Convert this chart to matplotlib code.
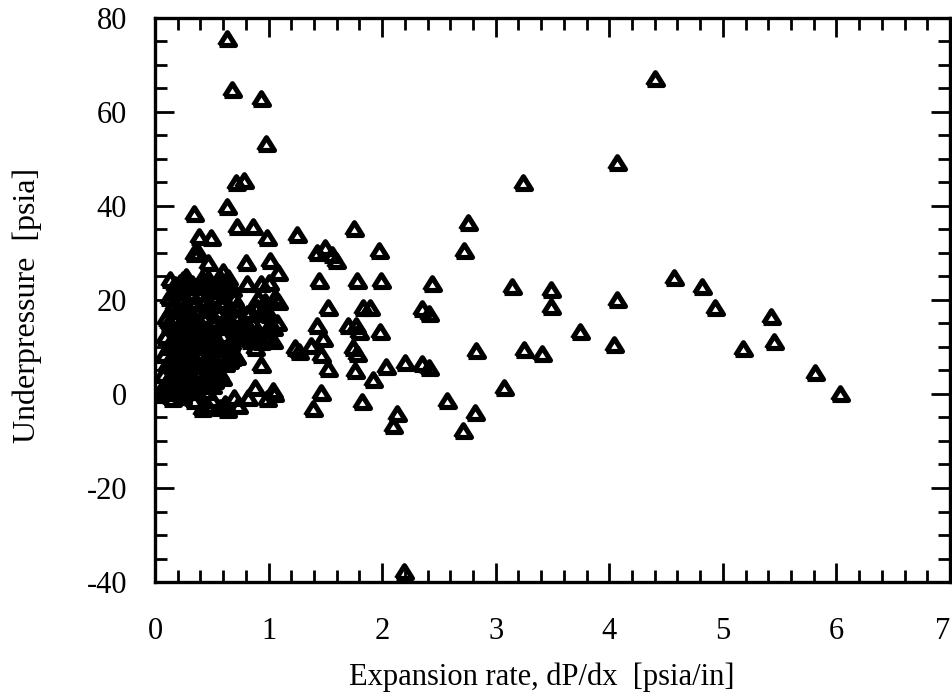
import numpy as np
import matplotlib
matplotlib.use("Agg")
import matplotlib.pyplot as plt
from matplotlib.ticker import MultipleLocator

plt.rcParams["font.family"] = ["Liberation Serif", "DejaVu Serif"]
plt.rcParams["axes.unicode_minus"] = False

# 分散的点 (扩张速率, 欠压)
scatter_x = [0.63, 0.68, 0.93, 0.98, 0.71, 0.78, 0.63, 0.34, 0.39, 0.49, 0.72, 0.86, 0.99, 1.25, 1.75,
             0.34, 0.38, 0.47, 0.60, 0.80, 1.01, 1.08, 1.43, 1.50, 1.56, 1.59, 1.97, 2.72, 2.76, 3.24,
             4.07, 4.40,
             0.25, 0.41, 0.46, 0.57, 0.64, 0.81, 0.93, 1.00, 1.44, 1.78, 1.99, 2.44, 3.14, 3.49, 4.07,
             4.57, 4.82, 4.93,
             0.91, 0.90, 0.95, 1.08, 1.52, 1.83, 1.89, 2.35, 2.41, 3.49,
             0.81, 0.86, 0.72, 0.78, 1.07, 1.43, 1.70, 1.77, 1.80, 1.98, 3.74,
             1.04, 0.84, 0.88, 0.66, 0.69, 1.23, 1.27, 1.37, 1.48, 1.46, 1.74, 1.78, 2.83, 3.25, 3.41,
             4.04, 5.18, 5.42, 5.45,
             0.93, 1.52, 1.76, 1.92, 2.03, 2.20, 2.35, 2.41, 3.07, 5.81, 6.03,
             1.04, 0.99, 0.88, 0.82, 0.73, 0.62, 0.57, 0.63, 0.46, 0.41, 0.34, 0.03,
             1.05, 1.46, 1.39, 1.82, 2.13, 2.10, 2.57, 2.82, 2.71, 2.19,
             0.55, 0.59, 0.97, 1.06, 0.84, 0.93, 1.00, 0.63, 0.75, 0.84, 0.90, 0.99, 1.04, 0.93, 0.99,
             0.64, 0.71]
scatter_y = [75.5, 64.6, 62.8, 53.2, 44.9, 45.3, 39.8, 38.3, 33.5, 33.1, 35.5, 35.5, 33.1, 33.8, 35.1,
             29.7, 30.0, 27.8, 26.0, 27.8, 28.2, 25.8, 29.9, 31.0, 29.6, 28.3, 30.4, 30.4, 36.3, 44.8,
             49.1, 67.1,
             24.3, 24.5, 23.7, 24.5, 23.7, 23.5, 23.5, 23.7, 24.0, 24.0, 24.0, 23.3, 22.7, 22.1, 20.1,
             24.6, 22.7, 18.3,
             20.3, 18.3, 17.1, 19.5, 18.3, 18.3, 18.3, 18.1, 17.0, 18.6,
             17.1, 14.9, 13.9, 12.4, 15.1, 14.5, 14.5, 14.5, 13.1, 13.2, 13.1,
             11.3, 11.3, 9.8, 10.7, 8.1, 9.7, 9.0, 10.2, 11.7, 8.2, 9.8, 8.5, 9.2, 9.3, 8.6,
             10.5, 9.5, 16.3, 11.1,
             6.1, 5.4, 4.8, 2.9, 5.8, 6.7, 6.3, 5.5, 1.2, 4.4, 0.1,
             0.7, -1.1, 1.3, -0.9, -2.6, -2.1, -3.0, -3.5, -2.6, -3.1, -1.4, -0.2,
             0.0, 0.2, -3.1, -1.6, -4.2, -6.9, -1.4, -4.0, -7.8, -37.8,
             4.3, 3.4, 19.6, 20.4, 17.4, 17.2, 16.8, 15.1, 14.3, 13.6, 13.2, 13.6, 14.0, 11.1, 11.5,
             9.4, 7.9]

# 密集区 (0 < x < 0.75)
cluster_x = [0.13, 0.22, 0.27, 0.41, 0.47, 0.57, 0.64,
             0.16, 0.19, 0.30, 0.36, 0.52, 0.68,
             0.12, 0.24, 0.33, 0.44, 0.50, 0.61, 0.70,
             0.15, 0.21, 0.28, 0.38, 0.46, 0.55, 0.66,
             0.10, 0.18, 0.26, 0.32, 0.42, 0.53, 0.63, 0.74,
             0.14, 0.20, 0.29, 0.37, 0.45, 0.58, 0.69,
             0.09, 0.17, 0.23, 0.31, 0.40, 0.49, 0.60, 0.72,
             0.12, 0.19, 0.27, 0.35, 0.43, 0.54, 0.64,
             0.08, 0.15, 0.22, 0.30, 0.39, 0.47, 0.58, 0.68,
             0.11, 0.18, 0.25, 0.34, 0.42, 0.51, 0.62,
             0.07, 0.14, 0.21, 0.29, 0.37, 0.45, 0.56,
             0.10, 0.17, 0.24, 0.32, 0.40, 0.50,
             0.05, 0.13, 0.20, 0.28, 0.36, 0.44,
             0.18, 0.33, 0.50, 0.60,
             0.17, 0.26, 0.35, 0.48, 0.58, 0.72,
             0.12, 0.24, 0.34, 0.40, 0.50, 0.62,
             0.14, 0.21, 0.29, 0.38, 0.46, 0.56, 0.67,
             0.13, 0.20, 0.27, 0.36, 0.44, 0.54, 0.65,
             0.12, 0.19, 0.26, 0.34, 0.42, 0.52,
             0.15, 0.24, 0.50, 0.70]
cluster_y = [24.2, 23.6, 24.8, 22.9, 24.4, 23.1, 24.6,
             21.8, 22.5, 21.4, 22.7, 21.9, 22.3,
             20.4, 19.7, 20.8, 19.9, 20.6, 19.5, 20.2,
             18.1, 17.6, 18.5, 17.9, 18.3, 17.4, 18.0,
             16.2, 15.8, 16.6, 15.9, 16.4, 15.6, 16.1, 16.5,
             14.3, 13.8, 14.1, 14.6, 13.7, 14.2, 13.9,
             12.2, 11.8, 12.5, 11.9, 12.3, 11.6, 12.4, 12.0,
             10.1, 9.7, 10.4, 9.9, 10.3, 9.6, 10.2,
             8.2, 7.8, 8.4, 7.9, 8.1, 7.6, 8.3, 7.7,
             6.2, 5.8, 6.4, 5.9, 6.1, 5.7, 6.3,
             4.1, 3.8, 4.3, 3.7, 4.2, 3.9, 4.4,
             2.2, 1.8, 2.4, 1.9, 2.1, 1.7,
             0.6, 0.3, 0.8, 0.4, 0.7, 0.5,
             23.1, 23.4, 22.8, 23.2,
             19.2, 18.8, 19.4, 18.9, 19.1, 18.7,
             15.1, 14.8, 15.3, 14.9, 15.2, 14.7,
             11.1, 10.8, 11.3, 10.9, 11.2, 10.7, 11.0,
             7.1, 6.8, 7.3, 6.9, 7.2, 6.7, 7.0,
             3.1, 2.8, 3.3, 2.9, 3.2, 2.7,
             -1.0, -0.7, -1.2, -0.8]

x_ticks = [0, 1, 2, 3, 4, 5, 6, 7]
y_ticks = [-40, -20, 0, 20, 40, 60, 80]

fig = plt.figure(figsize=(9.53, 6.94), dpi=100)
ax = fig.add_axes([155 / 953, 1 - 582 / 694, 795 / 953, 564 / 694])

# 宽底空心三角形 (无填充, 重叠处变黑)
tri = [(-1.0, -0.75), (1.0, -0.75), (0.0, 0.85), (-1.0, -0.75)]
all_x = np.array(cluster_x + scatter_x)
all_y = np.array(cluster_y + scatter_y)
ax.plot(all_x, all_y, linestyle="none", marker=tri, markersize=11.5,
        markerfacecolor="none", markeredgecolor="black", markeredgewidth=3.7)

ax.set_xlim(0, 7)
ax.set_ylim(-40, 80)
ax.set_xticks(x_ticks)
ax.set_yticks(y_ticks)
ax.xaxis.set_minor_locator(MultipleLocator(0.2))
ax.yaxis.set_minor_locator(MultipleLocator(5))
ax.tick_params(which="both", direction="in", top=True, right=True, width=2.0, labelsize=22)
ax.tick_params(which="major", length=14)
ax.tick_params(which="minor", length=8.5)
ax.tick_params(axis="x", which="major", pad=25)
ax.tick_params(axis="y", which="major", pad=20)
for sp in ax.spines.values():
    sp.set_linewidth(2.4)
ax.get_xticklabels()[-1].set_horizontalalignment("right")

ax.set_xlabel("Expansion rate, dP/dx  [psia/in]", fontsize=22)
ax.set_ylabel("Underpressure  [psia]", fontsize=23)
ax.xaxis.set_label_coords(0.486, -0.142)
ax.yaxis.set_label_coords(-0.142, 0.49)

plt.savefig("out.png", dpi=100)
plt.close()
